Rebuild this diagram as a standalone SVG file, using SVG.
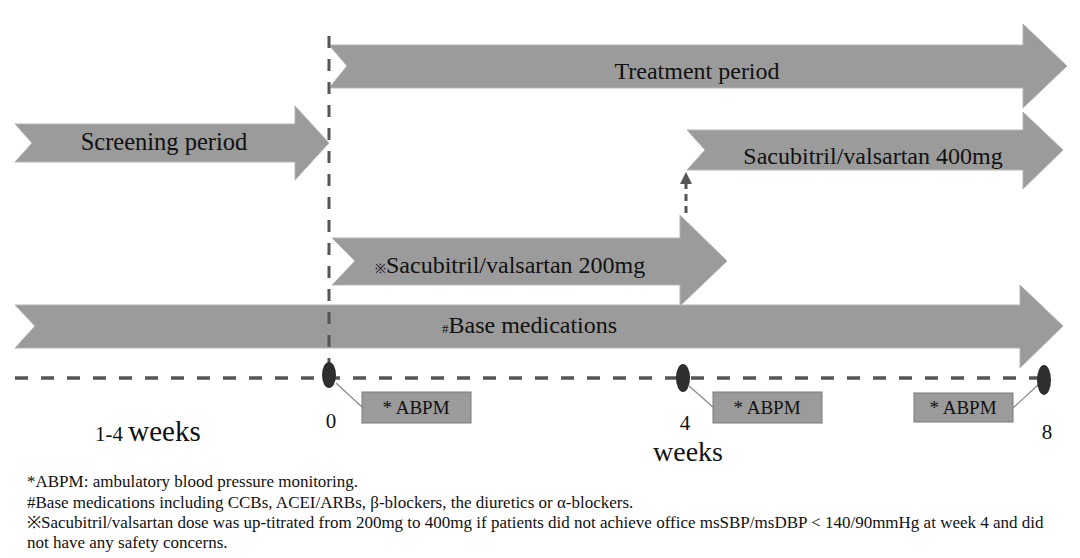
<svg xmlns="http://www.w3.org/2000/svg" width="1080" height="558" viewBox="0 0 1080 558">
<defs>
<style>
.arr{fill:#9b9b9b;stroke:#b5b5b5;stroke-width:1}
.lbl{font-family:"Liberation Serif","Times New Roman",serif;font-size:24px;fill:#111}
.sm{font-size:13px}
.box{fill:#9b9b9b;stroke:#7a7a7a;stroke-width:1}
.bt{font-family:"Liberation Serif","Times New Roman",serif;font-size:19px;fill:#111}
.ax{font-family:"Liberation Serif","Times New Roman",serif;font-size:21px;fill:#111}
.fn{font-family:"Liberation Serif","Times New Roman",serif;font-size:17px;fill:#111}
.dash{fill:none;stroke:#555;stroke-width:3.5;stroke-dasharray:13 13}
.vdash{fill:none;stroke:#555;stroke-width:3;stroke-dasharray:12 11}
.lead{stroke:#888;stroke-width:1.2;fill:none}
.dot{fill:#2e2e2e}
</style>
<marker id="ah" viewBox="0 0 10 10" refX="5" refY="5" markerWidth="4" markerHeight="4" orient="auto">
<path d="M0,0 L10,5 L0,10 Z" fill="#555"/>
</marker>
</defs>
<rect width="1080" height="558" fill="#fff"/>

<g id="treatment-period">
<path class="arr" d="M329,45 L1023,45 L1023,24 L1067,66 L1023,108 L1023,88 L329,88 L347,66 Z"/>
<text class="lbl" x="697" y="79" text-anchor="middle">Treatment period</text>
</g>
<g id="screening-period">
<path class="arr" d="M15,124 L295,124 L295,106 L329,143 L295,180 L295,162 L15,162 L32,143 Z"/>
<text class="lbl" x="164" y="150" text-anchor="middle" style="font-size:24.5px">Screening period</text>
</g>
<g id="sv400">
<path class="arr" d="M687,130 L1023,130 L1023,112 L1063,150 L1023,189 L1023,170 L687,170 L705,150 Z"/>
<text class="lbl" x="873" y="164" text-anchor="middle">Sacubitril/valsartan 400mg</text>
</g>
<g id="sv200">
<path class="arr" d="M332,238 L680,238 L680,215 L727,261 L680,306 L680,285 L332,285 L355,261 Z"/>
<text class="lbl" x="375" y="273"><tspan class="sm">※</tspan>Sacubitril/valsartan 200mg</text>
</g>
<g id="base-medications">
<path class="arr" d="M15,305 L1020,305 L1020,285 L1063,326 L1020,368 L1020,348 L15,348 L35,326 Z"/>
<text class="lbl" x="442" y="333"><tspan class="sm">#</tspan>Base medications</text>
</g>

<g id="connectors">
<line class="vdash" x1="329" y1="36" x2="329" y2="372"/>
<line class="dash" x1="15" y1="378" x2="1040" y2="378"/>
<line stroke="#555" stroke-width="3" stroke-dasharray="7 5" x1="686" y1="213" x2="686" y2="178" marker-end="url(#ah)"/>
<line class="lead" x1="336" y1="383" x2="362" y2="407"/>
<line class="lead" x1="689" y1="386" x2="713" y2="407"/>
<line class="lead" x1="1013" y1="408" x2="1039" y2="384"/>
</g>

<g id="t0">
<ellipse class="dot" cx="329" cy="375" rx="7" ry="13"/>
<text class="ax" x="331" y="428" text-anchor="middle">0</text>
</g>
<g id="t4">
<ellipse class="dot" cx="683" cy="378" rx="7" ry="14"/>
<text class="ax" x="685" y="430" text-anchor="middle">4</text>
<text class="ax" x="688" y="461" text-anchor="middle" style="font-size:28px">weeks</text>
</g>
<g id="t8">
<ellipse class="dot" cx="1044" cy="380" rx="7" ry="15"/>
<text class="ax" x="1047" y="439" text-anchor="middle">8</text>
</g>
<g id="screen-weeks">
<text class="ax" x="95" y="441">1-4 <tspan style="font-size:29px">weeks</tspan></text>
</g>

<g id="abpm1">
<rect class="box" x="362" y="392" width="109" height="31"/>
<text class="bt" x="416" y="414" text-anchor="middle">* ABPM</text>
</g>
<g id="abpm2">
<rect class="box" x="713" y="392" width="109" height="31"/>
<text class="bt" x="767" y="414" text-anchor="middle">* ABPM</text>
</g>
<g id="abpm3">
<rect class="box" x="914" y="393" width="99" height="29"/>
<text class="bt" x="963" y="414" text-anchor="middle">* ABPM</text>
</g>

<g id="footnotes">
<text class="fn" x="27" y="487">*ABPM: ambulatory blood pressure monitoring.</text>
<text class="fn" x="27" y="508">#Base medications including CCBs, ACEI/ARBs, β-blockers, the diuretics or α-blockers.</text>
<text class="fn" x="27" y="528">※Sacubitril/valsartan dose was up-titrated from 200mg to 400mg if patients did not achieve office msSBP/msDBP &lt; 140/90mmHg at week 4 and  did</text>
<text class="fn" x="27" y="548">not have any safety concerns.</text>
</g>
</svg>
